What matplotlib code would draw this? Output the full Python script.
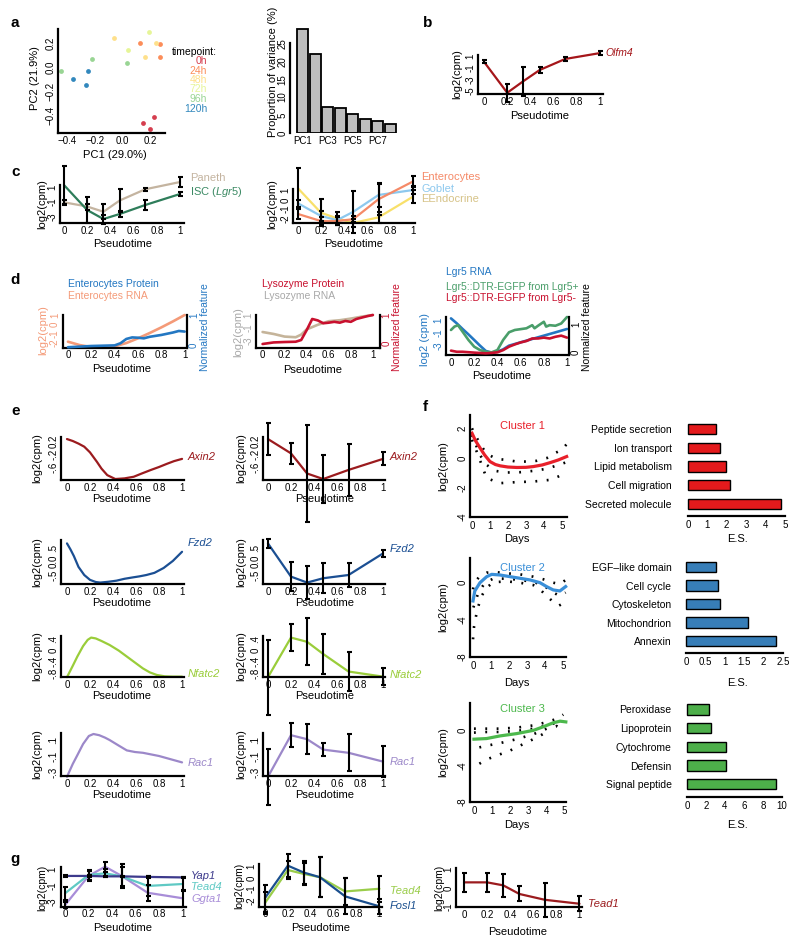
import matplotlib
matplotlib.use("Agg")
import matplotlib.pyplot as plt
import numpy as np

plt.rcParams['font.family'] = ['Liberation Sans', 'DejaVu Sans']
plt.rcParams['mathtext.fontset'] = 'custom'
plt.rcParams['mathtext.it'] = 'Liberation Sans:italic'
plt.rcParams['mathtext.rm'] = 'Liberation Sans'

# ---------------- data ----------------
# a: PCA
timepoints = ['0h', '24h', '48h', '72h', '96h', '120h']
tp_colors = ['#D53E4F', '#FC8D59', '#FEE08B', '#E6F598', '#99D594', '#3288BD']
pc1 = [[0.15, 0.23, 0.20], [0.13, 0.27, 0.27], [-0.06, 0.24, 0.16],
       [0.19, 0.04], [-0.44, -0.22, 0.03], [-0.36, -0.25, -0.26]]
pc2 = [[-0.47, -0.42, -0.52], [0.20, 0.19, 0.08], [0.24, 0.20, 0.08],
       [0.29, 0.14], [-0.03, 0.07, 0.03], [-0.10, -0.03, -0.15]]
var_names = ['PC1', 'PC2', 'PC3', 'PC4', 'PC5', 'PC6', 'PC7', 'PC8']
var_expl = [29.0, 21.9, 7.2, 7.0, 5.2, 4.0, 3.4, 2.6]

# pseudotime of the six bins
ptime = [0, 0.2, 0.34, 0.48, 0.7, 1.0]

# b
olfm4 = [0.0, -5.3, -3.3, -1.4, 0.49, 1.5]
olfm4_err = [0.25, 1.5, 2.5, 0.5, 0.3, 0.35]

# c
paneth = [-1.04, -1.6, -2.3, -0.8, 0.7, 1.67]
paneth_err = [0.3, 0.4, 1.0, 1.5, 0.22, 0.62]
isc = [1.27, -2.07, -3.27, -2.6, -1.4, 0.07]
isc_err = [2.6, 1.75, 0.6, 0.45, 0.68, 0.3]
entero = [-1.53, -2.3, -2.3, -2.1, 0.07, 2.0]
entero_err = [0.6, 0.45, 0.4, 0.3, 1.7, 0.6]
goblet = [-0.37, -1.75, -2.2, -1.3, 0.53, 1.07]
goblet_err = [0.4, 0.5, 0.5, 2.3, 1.3, 0.4]
eendo = [1.26, -1.4, -2.0, -2.5, -1.9, 0.35]
eendo_err = [2.2, 1.45, 0.7, 0.4, 0.6, 0.7]

# d1
d1_rna_t = [0, 0.1, 0.2, 0.3, 0.4, 0.5, 0.6, 0.7, 0.8, 0.9, 1.0]
d1_rna = [-1.93, -2.3, -2.52, -2.59, -2.44, -2.08, -1.56, -0.98, -0.36, 0.3, 1.0]
d1_prot_t = [0, 0.2, 0.4, 0.45, 0.5, 0.55, 0.6, 0.65, 0.7, 0.8, 0.9, 0.95, 1.0]
d1_prot = [-0.05, -0.01, 0.01, 0.08, 0.22, 0.27, 0.26, 0.24, 0.29, 0.35, 0.43, 0.48, 0.46]
# d2
d2_rna_t = [0, 0.1, 0.2, 0.3, 0.35, 0.4, 0.5, 0.6, 0.7, 0.8, 0.9, 1.0]
d2_rna = [-1.6, -1.9, -2.3, -2.4, -2.0, -1.2, -0.5, 0.05, 0.2, 0.45, 0.75, 1.0]
d2_prot_t = [0, 0.1, 0.2, 0.3, 0.35, 0.4, 0.45, 0.5, 0.55, 0.6, 0.65, 0.7, 0.75,
             0.8, 0.85, 0.9, 0.95, 1.0]
d2_prot = [-0.02, 0.035, 0.05, 0.06, 0.12, 0.47, 0.86, 0.81, 0.71, 0.73, 0.76, 0.73,
           0.79, 0.76, 0.86, 0.91, 0.96, 1.0]
# d3
d3_rna_t = [0, 0.05, 0.1, 0.15, 0.2, 0.25, 0.3, 0.35, 0.4, 0.45, 0.5, 0.6, 0.7, 0.8, 0.9, 1.0]
d3_rna = [1.37, 0.57, -0.33, -1.19, -2.09, -3.0, -3.85, -4.12, -3.96, -3.59, -3.0,
          -2.47, -1.93, -1.4, -0.87, -0.33]
d3_pos_t = [0, 0.03, 0.06, 0.1, 0.15, 0.2, 0.25, 0.3, 0.35, 0.4, 0.45, 0.5, 0.55, 0.6,
            0.65, 0.7, 0.72, 0.75, 0.8, 0.82, 0.85, 0.9, 0.95, 1.0]
d3_pos = [0.79, 0.91, 0.96, 0.73, 0.44, 0.2, 0.08, 0.02, 0.0, 0.08, 0.44, 0.71, 0.79,
          0.82, 0.85, 0.96, 0.85, 0.94, 1.08, 0.91, 0.96, 0.94, 1.02, 1.25]
d3_neg_t = [0, 0.05, 0.1, 0.2, 0.3, 0.35, 0.4, 0.45, 0.5, 0.55, 0.6, 0.65, 0.7, 0.75,
            0.8, 0.85, 0.9, 0.95, 1.0]
d3_neg = [0.06, 0.02, 0.02, -0.01, -0.035, -0.02, 0.0, 0.08, 0.2, 0.28, 0.35, 0.4,
          0.49, 0.49, 0.52, 0.49, 0.55, 0.59, 0.52]

# e: smoothed curves
axin2_t = [0, 0.05, 0.1, 0.15, 0.2, 0.26, 0.3, 0.35, 0.42, 0.5, 0.58, 0.65, 0.73, 0.8, 0.87, 0.93, 1.0]
axin2_s = [0.26, 0.2, 0.12, 0.025, -0.15, -0.44, -0.65, -0.85, -0.97, -0.95, -0.9, -0.8,
           -0.69, -0.6, -0.5, -0.42, -0.35]
fzd2_t = [0, 0.03, 0.06, 0.1, 0.15, 0.2, 0.25, 0.29, 0.36, 0.43, 0.5, 0.57, 0.63, 0.69,
          0.76, 0.84, 0.92, 1.0]
fzd2_s = [0.67, 0.45, 0.2, -0.2, -0.5, -0.68, -0.76, -0.78, -0.75, -0.71, -0.64, -0.59,
          -0.55, -0.5, -0.42, -0.24, 0.02, 0.36]
nfatc2_t = [0, 0.05, 0.09, 0.14, 0.18, 0.21, 0.25, 0.3, 0.37, 0.45, 0.52, 0.59, 0.66,
            0.72, 0.78, 0.85, 0.92, 1.0]
nfatc2_s = [-0.95, -0.55, -0.22, 0.15, 0.37, 0.45, 0.42, 0.33, 0.19, -0.01, -0.22, -0.43,
            -0.64, -0.78, -0.87, -0.92, -0.93, -0.93]
rac1_t = [0, 0.05, 0.09, 0.14, 0.19, 0.23, 0.28, 0.33, 0.37, 0.45, 0.52, 0.59, 0.66, 0.73,
          0.8, 0.9, 1.0]
rac1_s = [-0.36, -0.2, -0.09, 0.05, 0.15, 0.175, 0.16, 0.13, 0.1, 0.03, -0.03, -0.05,
          -0.06, -0.08, -0.1, -0.14, -0.18]
# e: binned means
axin2_m = [0.26, -0.18, -0.8, -0.97, -0.69, -0.35]
axin2_e = [0.5, 0.33, 1.5, 0.75, 0.8, 0.2]
fzd2_m = [0.67, -0.56, -0.78, -0.62, -0.5, 0.3]
fzd2_e = [0.17, 0.54, 0.6, 0.55, 0.45, 0.12]
nfatc2_m = [-0.95, 0.45, 0.3, -0.13, -0.75, -0.93]
nfatc2_e = [1.33, 0.47, 0.83, 0.69, 0.7, 0.3]
rac1_m = [-0.36, 0.16, 0.11, -0.02, -0.06, -0.17]
rac1_e = [0.35, 0.15, 0.19, 0.08, 0.23, 0.19]

# f: clusters
c1_days = [0, 0.2, 0.46, 0.7, 1.0, 1.3, 1.57, 2.0, 2.5, 3.0, 3.4, 3.9, 4.35, 4.8, 5.26]
c1_fit = [1.67, 1.15, 0.65, 0.2, -0.25, -0.45, -0.54, -0.62, -0.65, -0.64, -0.59, -0.48,
          -0.32, -0.14, 0.09]
c1_up_d = [0, 0.17, 0.44, 0.72, 1.0, 1.37, 1.93, 2.48, 3.04, 3.59, 4.15, 4.61, 4.98, 5.26]
c1_up = [2.0, 1.55, 0.99, 0.43, 0.16, -0.07, -0.14, -0.25, -0.25, -0.2, -0.02, 0.32, 0.54, 0.92]
c1_mid_d = [0, 0.44, 0.81, 1.28, 1.93, 2.67, 3.41, 4.15, 4.7, 5.26]
c1_mid = [1.55, 0.2, -0.47, -0.88, -0.99, -0.97, -0.88, -0.74, -0.52, -0.29]
c1_lo_d = [0, 0.26, 0.54, 0.81, 1.56, 2.48, 3.41, 4.33, 4.8, 5.26]
c1_lo = [1.22, 0.43, -0.47, -1.37, -1.71, -1.64, -1.6, -1.49, -1.26, -0.99]

c2_days = [0, 0.1, 0.39, 0.76, 1.04, 1.5, 2.06, 2.61, 3.17, 3.72, 4.09, 4.46, 4.83, 5.15]
c2_fit = [-2.0, -0.93, -0.04, 0.6, 0.85, 0.78, 0.6, 0.43, 0.25, -0.04, -0.46, -0.82, -0.93, -0.46]
c2_up_d = [0, 0.11, 0.39, 0.76, 1.22, 1.87, 2.61, 3.35, 3.91, 4.46, 4.83, 5.2]
c2_up = [-0.75, 0.04, 0.68, 1.03, 1.1, 0.96, 0.85, 0.6, 0.32, -0.04, -0.21, 0.32]
c2_mid_d = [0.02, 0.3, 0.67, 1.13, 1.87, 2.61, 3.35, 3.91, 4.46, 4.83, 5.15]
c2_mid = [-2.7, -1.1, -0.04, 0.39, 0.39, 0.25, 0.04, -0.32, -1.1, -1.46, -1.1]
c2_lo_d = [0, 0.06, 0.24, 0.48, 0.76, 1.13, 1.87, 2.61, 3.35, 3.72, 4.09, 4.46, 4.78, 5.15]
c2_lo = [-6.1, -4.7, -2.9, -1.46, -0.57, 0.0, 0.1, -0.05, -0.3, -0.75, -1.46, -2.1, -2.5, -2.1]

c3_days = [0, 0.7, 1.44, 2.37, 3.3, 3.85, 4.4, 4.78, 5.1]
c3_fit = [-1.02, -0.95, -0.66, -0.4, -0.04, 0.36, 0.8, 0.98, 0.9]
c3_up_d = [0, 0.7, 1.44, 2.37, 3.3, 4.04, 4.59, 4.96]
c3_up = [0.15, 0.15, 0.15, 0.26, 0.51, 0.87, 1.24, 1.71]
c3_mid_d = [0, 0.7, 1.44, 2.37, 3.3, 4.04, 4.59, 4.96]
c3_mid = [-0.29, -0.22, -0.22, -0.11, 0.15, 0.51, 0.8, 0.91]
c3_lo_d = [0.3, 0.7, 1.44, 2.37, 3.3, 4.04, 4.59, 4.96]
c3_lo = [-1.93, -1.75, -1.46, -1.02, -0.47, 0.15, 0.44, -0.04]
c3_low_d = [0.3, 0.7, 1.26, 2.0, 2.74, 3.48, 4.04]
c3_low = [-3.75, -3.28, -2.84, -2.29, -1.56, -0.84, -0.22]

# f: enrichment
terms1 = ['Peptide secretion', 'Ion transport', 'Lipid metabolism', 'Cell migration', 'Secreted molecule']
es1 = [1.47, 1.68, 1.98, 2.16, 4.8]
terms2 = ['EGF\u2013like domain', 'Cell cycle', 'Cytoskeleton', 'Mitochondrion', 'Annexin']
es2 = [0.77, 0.83, 0.88, 1.59, 2.32]
terms3 = ['Peroxidase', 'Lipoprotein', 'Cytochrome', 'Defensin', 'Signal peptide']
es3 = [2.3, 2.56, 4.07, 4.17, 9.4]

# g
yap1 = [0.15, 0.15, 0.1, 0.1, 0.03, -0.03]
yap1_e = [0.1, 0.1, 0.1, 0.1, 0.1, 0.1]
tead4_a = [-1.97, 0.27, 0.47, 0.1, -1.07, -0.83]
tead4_a_e = [0.8, 0.6, 0.5, 1.2, 1.2, 0.8]
ggta1 = [-3.4, 0.15, 1.28, 0.15, -1.9, -2.58]
ggta1_e = [0.4, 0.6, 0.6, 1.5, 1.0, 1.0]
tead4_b = [-2.24, 0.7, 0.35, 0.06, -1.21, -0.97]
tead4_b_e = [1.0, 0.8, 1.0, 1.8, 1.2, 1.15]
fosl1 = [-1.8, 1.09, 0.47, 0.06, -1.65, -2.54]
fosl1_e = [1.2, 1.0, 1.06, 1.8, 1.6, 0.7]
tead1 = [0.3, 0.3, 0.14, -0.32, -0.63, -0.84]
tead1_e = [0.5, 0.5, 0.6, 0.4, 0.9, 0.4]

# ---------------- figure ----------------
W, H = 800, 950
fig = plt.figure(figsize=(8, 9.5), dpi=100)
FS = 7
LW = 1.6


def add_ax(l, t, r, b):
    return fig.add_axes([l / W, 1 - b / H, (r - l) / W, (b - t) / H])


def txt(x, y, s, **kw):
    kw.setdefault('fontsize', FS)
    kw.setdefault('va', 'center')
    fig.text(x / W, 1 - y / H, s, **kw)


def vlabel(x, y, s, **kw):
    kw.setdefault('fontsize', 8)
    txt(x, y, s, rotation=90, ha='center', **kw)


def style(ax):
    for sp in ['top', 'right']:
        ax.spines[sp].set_visible(False)
    for sp in ['left', 'bottom']:
        ax.spines[sp].set_linewidth(LW)
    ax.tick_params(length=0, labelsize=FS, pad=2)
    ax.patch.set_alpha(0)


def pt_axes(ax, xlim, ylim, yticks, ylabs):
    style(ax)
    ax.set_xlim(*xlim)
    ax.set_ylim(*ylim)
    ax.set_xticks([0, 0.2, 0.4, 0.6, 0.8, 1])
    ax.set_xticklabels(['0', '0.2', '0.4', '0.6', '0.8', '1'])
    ax.set_yticks(yticks)
    ax.set_yticklabels(ylabs, rotation=90, va='center')


def errbars(ax, y, e):
    eb = ax.errorbar(ptime, y, yerr=e, fmt='none', ecolor='black', elinewidth=1.5,
                     capsize=1.8, capthick=1.5, zorder=5)
    for a in list(eb.lines[1]) + list(eb.lines[2]):
        a.set_clip_on(False)


def curve(ax, x, y, c, lw=1.6):
    ax.plot(x, y, color=c, lw=lw, clip_on=False, solid_capstyle='round')


# panel letters
for s, x, y in [('a', 15, 23), ('b', 428, 23), ('c', 16, 172), ('d', 15, 280),
                ('e', 16, 411), ('f', 425, 407), ('g', 15, 859)]:
    txt(x, y, s, fontsize=11, fontweight='bold', ha='center')

# ---- a: PCA scatter ----
ax = add_ax(58, 29, 165, 133)
style(ax)
for xs, ys, c in zip(pc1, pc2, tp_colors):
    ax.scatter(xs, ys, s=12, color=c, linewidths=0)
ax.set_xlim(-0.465, 0.308)
ax.set_ylim(-0.55, 0.317)
ax.set_xticks([-0.4, -0.2, 0.0, 0.2])
ax.set_xticklabels(['\u22120.4', '\u22120.2', '0.0', '0.2'])
ax.set_yticks([-0.4, -0.2, 0.0, 0.2])
ax.set_yticklabels(['\u22120.4', '\u22120.2', '0.0', '0.2'], rotation=90, va='center')
vlabel(35, 78, 'PC2 (21.9%)')
txt(115, 155, 'PC1 (29.0%)', ha='center', fontsize=8)
txt(172, 52, 'timepoint:', ha='left', fontsize=7.5)
for i, (tp, c) in enumerate(zip(timepoints, tp_colors)):
    txt(207, 61 + 9.5 * i, tp, ha='right', color=c, fontsize=7.5)

# ---- a: variance bars ----
ax = add_ax(290, 25, 397, 133)
style(ax)
ax.spines['bottom'].set_visible(False)
ax.bar(np.arange(len(var_expl)), var_expl, width=0.88, color='#BEBEBE',
       edgecolor='black', linewidth=1.3)
ax.set_xlim(-1.0, 7.55)
ax.set_ylim(0, 30.1)
ax.spines['left'].set_bounds(0, 25)
ax.set_xticks([0, 2, 4, 6])
ax.set_xticklabels([var_names[i] for i in [0, 2, 4, 6]])
ax.set_yticks([0, 5, 10, 15, 20, 25])
ax.set_yticklabels(['0', '5', '10', '15', '20', '25'], rotation=90, va='center')
vlabel(273, 72, 'Proportion of variance (%)')

# ---- b ----
ax = add_ax(478, 55, 603, 94)
pt_axes(ax, (-0.052, 1.026), (-5.51, 1.17), [-5, -3, -1, 1], ['-5', '-3', '-1', '1'])
curve(ax, ptime, olfm4, '#A5161A')
errbars(ax, olfm4, olfm4_err)
txt(605, 53, 'Olfm4', ha='left', color='#A5161A', style='italic', fontsize=7.5)
vlabel(457, 74, 'log2(cpm)')
txt(540, 116, 'Pseudotime', ha='center', fontsize=8)

# ---- c left ----
ax = add_ax(60, 185, 184, 223)
pt_axes(ax, (-0.034, 1.034), (-3.8, 1.27), [-3, -1, 1], ['-3', '-1', '1'])
curve(ax, ptime, paneth, '#C4B4A0')
curve(ax, ptime, isc, '#2E7D5A')
errbars(ax, paneth, paneth_err)
errbars(ax, isc, isc_err)
txt(190, 178, 'Paneth', ha='left', color='#C4B4A0', fontsize=8)
txt(190, 192, r'ISC ($\it{Lgr5}$)', ha='left', color='#3C8A64', fontsize=8)
vlabel(42, 204, 'log2(cpm)')
txt(123, 244, 'Pseudotime', ha='center', fontsize=8)

# ---- c right ----
ax = add_ax(293, 189, 415, 223)
pt_axes(ax, (-0.043, 1.017), (-2.51, 1.18), [-2, -1, 0, 1], ['-2', '-1', '0', '1'])
curve(ax, ptime, eendo, '#F8E06A')
curve(ax, ptime, goblet, '#8DC8EE')
curve(ax, ptime, entero, '#F58A68')
errbars(ax, eendo, eendo_err)
errbars(ax, goblet, goblet_err)
errbars(ax, entero, entero_err)
txt(421, 177, 'Enterocytes', ha='left', color='#F58A68', fontsize=8)
txt(421, 189, 'Goblet', ha='left', color='#8DC8EE', fontsize=8)
txt(421, 199, 'EEndocrine', ha='left', color='#D6C388', fontsize=8)
vlabel(272, 204, 'log2(cpm)')
txt(354, 244, 'Pseudotime', ha='center', fontsize=8)


# ---- d ----
def twin_panel(l, t, r, b, xlim, ylim_l, yt_l, ylim_r, col_l, col_r):
    ax = add_ax(l, t, r, b)
    pt_axes(ax, xlim, ylim_l, yt_l, [str(v) for v in yt_l])
    ax.tick_params(axis='y', labelcolor=col_l)
    ax2 = ax.twinx()
    ax2.set_ylim(*ylim_r)
    for sp in ['top', 'left', 'bottom']:
        ax2.spines[sp].set_visible(False)
    ax2.spines['right'].set_linewidth(LW)
    ax2.tick_params(length=0, labelsize=FS, pad=1.5, labelcolor=col_r)
    ax2.set_yticks([0, 1])
    ax2.set_yticklabels(['0', '1'], rotation=90, va='center')
    return ax, ax2


ax, ax2 = twin_panel(62.6, 315, 187, 347.7, (-0.046, 1.02), (-2.59, 1.0), [-2, -1, 0, 1],
                     (-0.065, 1.0), '#F49A78', '#2377C2')
curve(ax, d1_rna_t, d1_rna, '#F49A78', lw=1.9)
curve(ax2, d1_prot_t, d1_prot, '#2377C2', lw=1.9)
txt(68, 284, 'Enterocytes Protein', ha='left', color='#2377C2', fontsize=7.5)
txt(68, 296, 'Enterocytes RNA', ha='left', color='#F49A78', fontsize=7.5)
vlabel(43.6, 330, 'log2(cpm)', color='#F49A78')
vlabel(205, 327, 'Normalized feature', color='#2377C2', fontsize=7.5)
txt(122, 369, 'Pseudotime', ha='center', fontsize=8)

ax, ax2 = twin_panel(256.4, 315, 379.5, 347.7, (-0.056, 1.06), (-4.0, 1.0), [-3, -1, 1],
                     (-0.15, 1.0), '#A8A8A8', '#C8102E')
curve(ax, d2_rna_t, d2_rna, '#C5B49A', lw=1.9)
curve(ax2, d2_prot_t, d2_prot, '#C8102E', lw=1.9)
txt(261.5, 284, 'Lysozyme Protein', ha='left', color='#C8102E', fontsize=7.5)
txt(264, 296, 'Lysozyme RNA', ha='left', color='#A8A8A8', fontsize=7.5)
vlabel(238.5, 332, 'log2(cpm)', color='#A8A8A8')
vlabel(397.5, 327, 'Normalized feature', color='#C8102E', fontsize=7.5)
txt(313, 370, 'Pseudotime', ha='center', fontsize=8)

ax, ax2 = twin_panel(446, 316.7, 569, 355, (-0.043, 1.017), (-4.5, 1.64), [-3, -1, 1],
                     (-0.094, 1.26), '#2377C2', 'black')
curve(ax, d3_rna_t, d3_rna, '#2377C2', lw=1.9)
curve(ax2, d3_pos_t, d3_pos, '#4A9E6A', lw=1.9)
curve(ax2, d3_neg_t, d3_neg, '#C8102E', lw=1.9)
txt(446, 272, 'Lgr5 RNA', ha='left', color='#2377C2', fontsize=7.5)
txt(446, 287, 'Lgr5::DTR-EGFP from Lgr5+', ha='left', color='#4A9E6A', fontsize=7.5)
txt(446, 298, 'Lgr5::DTR-EGFP from Lgr5-', ha='left', color='#C8102E', fontsize=7.5)
vlabel(425, 340, 'log2 (cpm)', color='#2377C2')
vlabel(587, 327, 'Normalized feature', fontsize=7.5)
txt(502, 376, 'Pseudotime', ha='center', fontsize=8)

# ---- e ----
e_rows = [
    ('Axin2', '#9B1B1E', axin2_t, axin2_s, axin2_m, axin2_e, 437, 480, (-1.0, 0.323),
     [-0.6, -0.2, 0.2], ['-.6', '-.2', '0.2'], 457, 457),
    ('Fzd2', '#1B4F93', fzd2_t, fzd2_s, fzd2_m, fzd2_e, 540, 584, (-0.833, 0.796),
     [-0.5, 0.0, 0.5], ['-.5', '0.0', '.5'], 543, 549),
    ('Nfatc2', '#9ACD3A', nfatc2_t, nfatc2_s, nfatc2_m, nfatc2_e, 636, 677, (-0.943, 0.506),
     [-0.8, -0.4, 0.0, 0.4], ['-.8', '-.4', '0', '.4'], 674, 675),
    ('Rac1', '#9C88C9', rac1_t, rac1_s, rac1_m, rac1_e, 733, 776, (-0.35, 0.1875),
     [-0.3, -0.1, 0.1], ['-.3', '-.1', '.1'], 763, 762),
]
for gene, col, st, sy, my, me, t, b, ylim, yt, yl, ly1, ly2 in e_rows:
    ax = add_ax(61, t, 184, b)
    pt_axes(ax, (-0.052, 1.017), ylim, yt, yl)
    curve(ax, st, sy, col)
    txt(188, ly1, gene, ha='left', color=col, style='italic', fontsize=8)
    vlabel(37, (t + b) / 2, 'log2(cpm)')
    txt(122, b + 19, 'Pseudotime', ha='center', fontsize=8)

    ax = add_ax(263, t, 385, b)
    pt_axes(ax, (-0.043, 1.017), ylim, yt, yl)
    curve(ax, ptime, my, col)
    errbars(ax, my, me)
    txt(390, ly2, gene, ha='left', color=col, style='italic', fontsize=8)
    vlabel(241, (t + b) / 2, 'log2(cpm)')
    txt(325, b + 19, 'Pseudotime', ha='center', fontsize=8)

# ---- f ----
f_rows = [
    ('Cluster 1', '#E8202A', '#E41A1C', c1_days, c1_fit,
     [(c1_up_d, c1_up), (c1_mid_d, c1_mid), (c1_lo_d, c1_lo)],
     (470, 415, 567, 517), (-0.11, 5.28), (-4, 2.9), [-4, -2, 0, 2], 426, 539,
     terms1, es1, (684, 420, 790, 516), (-0.2, 5.26), (4.64, -0.48),
     [0, 1, 2, 3, 4, 5], ['0', '1', '2', '3', '4', '5'], 5),
    ('Cluster 2', '#3A8FD8', '#377EB8', c2_days, c2_fit,
     [(c2_up_d, c2_up), (c2_mid_d, c2_mid), (c2_lo_d, c2_lo)],
     (470, 558, 566, 657), (-0.167, 5.17), (-8, 2.6), [-8, -4, 0], 568, 683,
     terms2, es2, (684, 558, 790, 653), (-0.05, 2.68), (4.65, -0.49),
     [0, 0.5, 1, 1.5, 2, 2.5], ['0', '0.5', '1', '1.5', '2', '2.5'], 2.5),
    ('Cluster 3', '#4CB84C', '#4DAF4A', c3_days, c3_fit,
     [(c3_up_d, c3_up), (c3_mid_d, c3_mid), (c3_lo_d, c3_lo), (c3_low_d, c3_low)],
     (470, 703, 566, 802), (-0.22, 5.11), (-8, 3.0), [-8, -4, 0], 709, 825,
     terms3, es3, (684, 700, 790, 797), (-0.3, 10.86), (4.68, -0.5),
     [0, 2, 4, 6, 8, 10], ['0', '2', '4', '6', '8', '10'], 10),
]
for (name, tcol, bcol, dd, fit, bands, box, xl, yl, yt, ty, dy,
     terms, es, bbox, bxl, byl, bxt, bxtl, bmax) in f_rows:
    ax = add_ax(*box)
    style(ax)
    for bx, by in bands:
        ax.plot(bx, by, color='black', lw=1.9, linestyle=(0, (0.7, 3.6)),
                dash_capstyle='butt', clip_on=False)
    ax.plot(dd, fit, color=tcol, lw=2.3, clip_on=False)
    ax.set_xlim(*xl)
    ax.set_ylim(*yl)
    ax.set_xticks([0, 1, 2, 3, 4, 5])
    ax.set_yticks(yt)
    ax.set_yticklabels([str(v) for v in yt], rotation=90, va='center')
    ax.tick_params(axis='x', pad=3)
    txt(522, ty, name, ha='center', color=tcol, fontsize=8)
    vlabel(443, (box[1] + box[3]) / 2, 'log2(cpm)')
    txt(517, dy, 'Days', ha='center', fontsize=8)

    ax = add_ax(*bbox)
    style(ax)
    ax.spines['left'].set_visible(False)
    ax.barh(np.arange(len(es)), es, height=0.55, left=0, color=bcol,
            edgecolor='black', linewidth=1.0)
    ax.set_xlim(*bxl)
    ax.set_ylim(*byl)
    ax.spines['bottom'].set_bounds(0, bmax)
    ax.set_yticks(np.arange(len(terms)))
    ax.set_yticklabels(terms, fontsize=7.5)
    ax.tick_params(axis='y', pad=9)
    ax.set_xticks(bxt)
    ax.set_xticklabels(bxtl)
    ax.tick_params(axis='x', pad=3)
    txt(737, dy, 'E.S.', ha='center', fontsize=8)

# ---- g ----
ax = add_ax(60.5, 867, 186, 906.7)
pt_axes(ax, (-0.038, 1.025), (-3.6, 1.24), [-3, -1, 1], ['-3', '-1', '1'])
curve(ax, ptime, ggta1, '#A88DD8')
curve(ax, ptime, tead4_a, '#5FC9C4')
curve(ax, ptime, yap1, '#3D3A8C')
errbars(ax, ggta1, ggta1_e)
errbars(ax, tead4_a, tead4_a_e)
errbars(ax, yap1, yap1_e)
txt(191, 876, 'Yap1', ha='left', color='#3D3A8C', style='italic', fontsize=8)
txt(191, 887.5, 'Tead4', ha='left', color='#5FC9C4', style='italic', fontsize=8)
txt(191, 899.5, 'Ggta1', ha='left', color='#A88DD8', style='italic', fontsize=8)
vlabel(42, 888, 'log2(cpm)', fontsize=7.5)
txt(123, 928, 'Pseudotime', ha='center', fontsize=8)

ax = add_ax(259, 864.3, 382, 906.7)
pt_axes(ax, (-0.052, 1.022), (-2.57, 1.21), [-2, -1, 0, 1], ['-2', '-1', '0', '1'])
curve(ax, ptime, tead4_b, '#9ACD4A')
curve(ax, ptime, fosl1, '#1A4F8E')
errbars(ax, tead4_b, tead4_b_e)
errbars(ax, fosl1, fosl1_e)
txt(390, 890.5, 'Tead4', ha='left', color='#9ACD4A', style='italic', fontsize=8)
txt(390, 906, 'Fosl1', ha='left', color='#1A4F8E', style='italic', fontsize=8)
vlabel(239, 886, 'log2(cpm)', fontsize=7.5)
txt(320.5, 928, 'Pseudotime', ha='center', fontsize=8)

ax = add_ax(456.4, 868.3, 582, 907.3)
pt_axes(ax, (-0.066, 1.022), (-1.03, 1.05), [-1, 0, 1], ['-1', '0', '1'])
curve(ax, ptime, tead1, '#9B1B1E')
errbars(ax, tead1, tead1_e)
txt(588, 904, 'Tead1', ha='left', color='#9B1B1E', style='italic', fontsize=8)
vlabel(439, 888, 'log2(cpm)', fontsize=7.5)
txt(518, 932, 'Pseudotime', ha='center', fontsize=8)

fig.savefig('out.png', dpi=100)
